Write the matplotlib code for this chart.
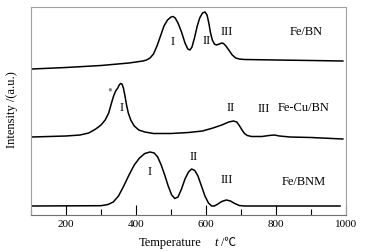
import matplotlib
matplotlib.use("Agg")
import matplotlib.pyplot as plt
from matplotlib.ticker import MultipleLocator

plt.rcParams['font.family'] = ['Liberation Serif', 'Noto Sans CJK SC', 'DejaVu Sans']

# Fe/BN
t_bn = [103, 200, 300, 380, 420, 430, 440, 450, 460, 470, 480, 490, 500, 506, 512, 520,
        530, 540, 548, 554, 560, 567, 575, 582, 590, 597, 603, 608, 613, 618, 624, 630,
        638, 645, 650, 657, 665, 675, 685, 695, 710, 800, 900, 991]
i_bn = [146, 147.5, 149.5, 152, 154, 155, 157, 161, 169, 179, 189, 195, 198, 198.5, 197, 192,
        183, 172, 166, 165, 168, 177, 189, 197, 202, 203, 200, 192, 182, 175, 171, 170,
        171, 172, 171.5, 169, 165, 160, 157, 156, 155.5, 155, 154.5, 154]

# Fe-Cu/BN
t_cu = [103, 200, 240, 265, 285, 300, 312, 322, 330, 336, 342, 348, 352, 356, 360, 364,
        368, 373, 378, 385, 395, 408, 425, 450, 500, 550, 590, 620, 645, 665, 678, 688,
        696, 703, 710, 718, 730, 760, 780, 795, 810, 840, 900, 991]
i_cu = [78, 79, 80, 82, 86, 90, 95, 102, 112, 119, 124, 127, 130, 131.5, 131, 127,
        120, 110, 102, 95, 89, 85, 83, 81.5, 81.5, 82.5, 84, 87, 90, 93, 94, 93,
        89, 85, 81.5, 79.5, 78.5, 78.5, 79.5, 80, 79, 78, 77.5, 76]

# Fe/BNM
t_bnm = [103, 300, 320, 335, 350, 365, 380, 395, 410, 425, 440, 452, 462, 472, 482, 492,
         502, 511, 520, 530, 540, 550, 559, 568, 577, 587, 597, 607, 616, 624, 634, 645,
         658, 670, 682, 695, 710, 983]
i_bnm = [9, 9.3, 10.5, 13, 19, 29, 40, 50, 57, 61.5, 63, 62, 58, 50, 40, 29,
         20, 16.5, 18, 26, 36, 43, 46, 44.5, 39, 29, 19, 12, 9, 9, 11, 13.5,
         15, 14, 11.5, 9.5, 9, 9]

fig = plt.figure(figsize=(3.67, 2.53), dpi=100)
ax = fig.add_axes([31 / 367, 1 - 216 / 253, 315 / 367, 208 / 253])

for t, i in [(t_bn, i_bn), (t_cu, i_cu), (t_bnm, i_bnm)]:
    ax.plot(t, i, color='black', lw=1.1)

ax.set_xlim(100, 1000)
ax.set_ylim(0, 208)
ax.xaxis.set_major_locator(MultipleLocator(200))
ax.xaxis.set_minor_locator(MultipleLocator(100))
ax.set_yticks([])
ax.tick_params(axis='x', which='major', direction='in', length=7, width=0.8, labelsize=8, pad=3)
ax.tick_params(axis='x', which='minor', direction='in', length=4, width=0.8)
for s in ax.spines.values():
    s.set_color('#a0a0a0')
    s.set_linewidth(0.8)
ax.spines['bottom'].set_color('#707070')

fs = 9
ax.text(506, 174, 'I', fontsize=fs, ha='center', va='center')
ax.text(601, 175, 'II', fontsize=fs, ha='center', va='center')
ax.text(660, 184, 'III', fontsize=fs, ha='center', va='center')
ax.text(885, 184, 'Fe/BN', fontsize=fs, ha='center', va='center')

ax.text(326, 125, '\u2022', fontsize=10, color='#888888', ha='center', va='center')
ax.text(360, 108, 'I', fontsize=fs, ha='center', va='center')
ax.text(670, 108, 'II', fontsize=fs, ha='center', va='center')
ax.text(765, 107, 'III', fontsize=fs, ha='center', va='center')
ax.text(880, 108, 'Fe-Cu/BN', fontsize=fs, ha='center', va='center')

ax.text(440, 44, 'I', fontsize=fs, ha='center', va='center')
ax.text(565, 59, 'II', fontsize=fs, ha='center', va='center')
ax.text(660, 36, 'III', fontsize=fs, ha='center', va='center')
ax.text(880, 34, 'Fe/BNM', fontsize=fs, ha='center', va='center')

fig.text(12 / 367, 1 - 110 / 253, 'Intensity /(a.u.)', rotation=90, fontsize=9,
         ha='center', va='center')
fig.text(170 / 367, 1 - 243 / 253, 'Temperature', fontsize=9, ha='center', va='center')
fig.text(216 / 367, 1 - 243 / 253, 't', fontsize=9, style='italic', ha='center', va='center')
fig.text(218 / 367, 1 - 243 / 253, ' /\u2103', fontsize=8.5, ha='left', va='center')

fig.savefig('out.png', dpi=100)
